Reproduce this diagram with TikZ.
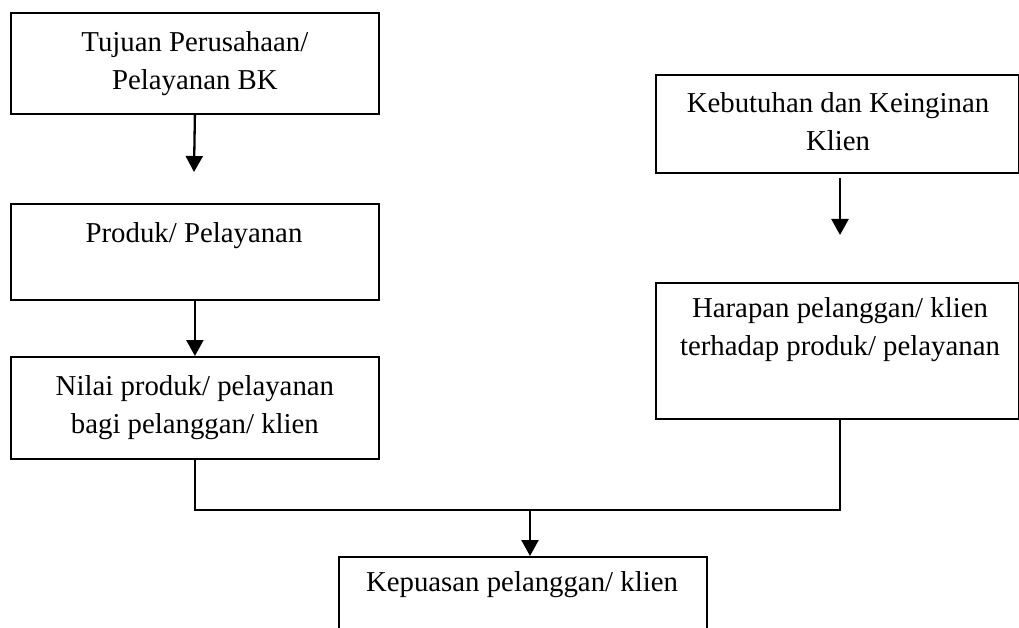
\documentclass[tikz,border=0pt]{standalone}
\usepackage{fontspec}
\setmainfont{Liberation Serif}
\usetikzlibrary{arrows.meta,calc}
\begin{document}
\begin{tikzpicture}[x=1pt,y=-1pt,
  boxnode/.style={draw, line width=1.8pt, inner sep=0pt, anchor=north west},
  lbl/.style={font=\fontsize{28.8}{38}\selectfont, align=center, inner sep=0pt},
  arr/.style={line width=2.3pt, -{Triangle[length=16pt,width=17pt]}},
  conn/.style={line width=1.8pt}]
\fill[white] (0,0) rectangle (1019,628);
\useasboundingbox (0,0) rectangle (1019,628);
\clip (0,0) rectangle (1019,628);
% left column
\node[boxnode, minimum width=368pt, minimum height=101pt] (b1) at (10,12) {};
\node[lbl] (t1) at (b1.center) {Tujuan Perusahaan/\\Pelayanan BK};
\node[boxnode, minimum width=368pt, minimum height=96pt] (b2) at (10,203) {};
\node[lbl] (t2) at (194,236) {Produk/ Pelayanan};
\node[boxnode, minimum width=368pt, minimum height=102pt] (b3) at (10,356) {};
\node[lbl] (t3) at (b3.center) {Nilai produk/ pelayanan\\bagi pelanggan/ klien};
% right column
\node[boxnode, minimum width=363pt, minimum height=98pt] (ba) at (655,74) {};
\node[lbl] (ta) at (838,122) {Kebutuhan dan Keinginan\\Klien};
\node[boxnode, minimum width=363pt, minimum height=136pt] (bb) at (655,282) {};
\node[lbl] (tb) at (840,330) {Harapan pelanggan/ klien\\terhadap produk/ pelayanan};
% bottom
\node[boxnode, minimum width=368pt, minimum height=120pt] (bk) at (338,556) {};
\node[lbl] (tk) at (522,585) {Kepuasan pelanggan/ klien};
% helper coordinates
\coordinate (rx) at (840,0);
\coordinate (hl) at (0,510);
\coordinate (jx) at (530,0);
\coordinate (a1s) at (194,172);
\coordinate (ras) at (840,178);
\coordinate (rae) at (840,235);
% connectors
\draw[arr] (b1.south) -- (a1s);
\draw[arr] (b2.south) -- (b3.north);
\draw[arr] (ras) -- (rae);
\draw[conn] (b3.south) -- (b3.south |- hl) -- (rx |- hl) -- (rx |- bb.south);
\draw[arr] (jx |- hl) -- (jx |- bk.north);
\end{tikzpicture}
\end{document}
